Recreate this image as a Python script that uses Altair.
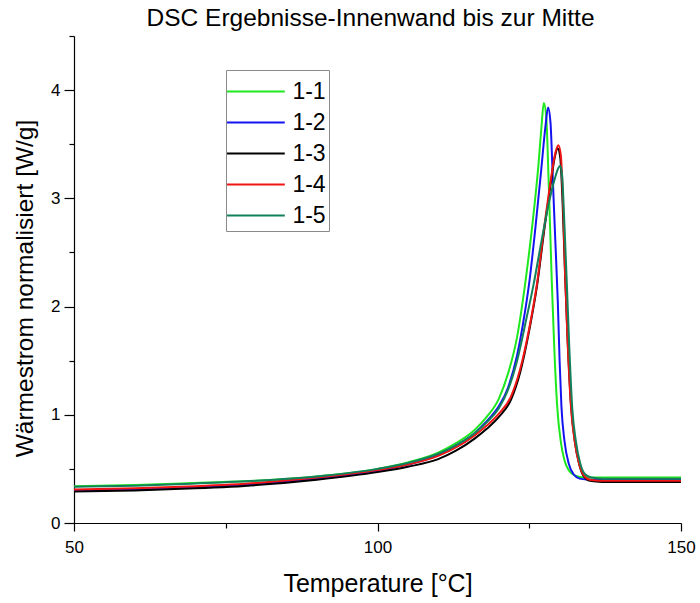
import altair as alt
import pandas as pd

# DSC heat-flow curves, normalised, for five samples (inner wall to middle)
series = ["1-1", "1-2", "1-3", "1-4", "1-5"]
colors = ["#1ee81e", "#1414f0", "#000000", "#f01414", "#13805c"]

t_11 = [50, 60, 70, 80, 90, 100, 105, 110, 113, 116, 118, 120, 121.5, 123, 124.3, 125.5, 126.5,
        127.0, 127.4, 127.8, 128.2, 128.7, 129.1, 129.6, 130.2, 130.8, 131.6, 132.5, 134, 140, 150]
v_11 = [0.34, 0.35, 0.37, 0.39, 0.43, 0.50, 0.56, 0.65, 0.74, 0.86, 0.98, 1.15, 1.38, 1.72, 2.20, 2.75, 3.30,
        3.65, 3.88, 3.75, 3.15, 2.25, 1.65, 1.08, 0.75, 0.58, 0.48, 0.44, 0.42, 0.42, 0.42]

t_12 = [50, 60, 70, 80, 90, 100, 105, 110, 113, 116, 118, 120, 121.5, 123, 124, 125, 126, 127, 127.7,
        128.1, 128.5, 128.9, 129.3, 129.7, 130.0, 130.3, 130.8, 131.5, 132.3, 133.3, 135, 140, 150]
v_12 = [0.30, 0.31, 0.33, 0.36, 0.41, 0.48, 0.54, 0.63, 0.72, 0.83, 0.94, 1.08, 1.25, 1.55, 1.85, 2.22, 2.72, 3.28, 3.68,
        3.84, 3.70, 3.15, 2.60, 2.05, 1.50, 1.08, 0.76, 0.55, 0.45, 0.41, 0.40, 0.40, 0.40]

t_13 = [50, 60, 70, 80, 90, 100, 105, 110, 113, 116, 118, 120, 122, 123.5, 125, 126.3, 127.5, 128.5,
        129.2, 129.7, 130.1, 130.5, 130.9, 131.3, 131.9, 132.5, 133.2, 134, 135, 137, 150]
v_13 = [0.29, 0.30, 0.32, 0.35, 0.40, 0.47, 0.52, 0.59, 0.67, 0.78, 0.87, 0.98, 1.14, 1.39, 1.78, 2.20, 2.72, 3.12,
        3.38, 3.46, 3.38, 2.95, 2.30, 1.72, 1.08, 0.76, 0.55, 0.43, 0.39, 0.38, 0.38]

t_14 = [50, 60, 70, 80, 90, 100, 105, 110, 113, 116, 118, 120, 122, 123.5, 125, 126.3, 127.5, 128.5,
        129.3, 129.8, 130.2, 130.6, 130.9, 131.3, 131.9, 132.5, 133.2, 134, 135, 137, 150]
v_14 = [0.31, 0.32, 0.34, 0.37, 0.42, 0.49, 0.54, 0.62, 0.70, 0.81, 0.90, 1.01, 1.17, 1.42, 1.80, 2.22, 2.75, 3.15,
        3.42, 3.49, 3.40, 2.90, 2.30, 1.70, 1.05, 0.75, 0.55, 0.44, 0.40, 0.39, 0.39]

t_15 = [50, 60, 70, 80, 90, 100, 105, 110, 113, 116, 118, 120, 121.5, 123, 124.5, 125.7, 127, 128.2,
        129.2, 129.8, 130.1, 130.4, 130.8, 131.2, 131.6, 132.1, 132.7, 133.4, 134.2, 135.2, 137, 150]
v_15 = [0.335, 0.345, 0.365, 0.39, 0.43, 0.50, 0.555, 0.64, 0.72, 0.83, 0.93, 1.06, 1.23, 1.50, 1.88, 2.20, 2.60, 2.95,
        3.18, 3.28, 3.30, 3.22, 2.75, 2.20, 1.62, 1.05, 0.75, 0.55, 0.45, 0.42, 0.41, 0.41]

x_ticks = [50, 75, 100, 125, 150]
y_ticks = [0, 0.5, 1, 1.5, 2, 2.5, 3, 3.5, 4, 4.5]

curves = [(series[0], t_11, v_11), (series[1], t_12, v_12), (series[2], t_13, v_13),
          (series[3], t_14, v_14), (series[4], t_15, v_15)]
rows = []
for order, (name, ts, vs) in enumerate(curves):
    for t, v in zip(ts, vs):
        rows.append({"sample": name, "T": t, "W": v, "k": order})
df = pd.DataFrame(rows)

FONT = "Liberation Sans"

# long horizontal legend stroke on a compact row height
legend_stroke = "M-1.65,0H1.65"

chart = alt.Chart(df).mark_line(strokeWidth=2, interpolate="monotone").encode(
    x=alt.X(
        "T:Q",
        scale=alt.Scale(domain=[50, 150], nice=False, zero=False),
        axis=alt.Axis(
            values=x_ticks,
            labelExpr="datum.value % 50 === 0 ? toString(datum.value) : ''",
            tickSize={"condition": {"test": "datum.value % 50 === 0", "value": 8}, "value": 5},
            labelFlush=False,
            labelOverlap=False,
            title="Temperature [°C]",
            titleFontSize=25,
            titlePadding=16,
            labelFontSize=17,
            labelPadding=8,
        ),
    ),
    y=alt.Y(
        "W:Q",
        scale=alt.Scale(domain=[0, 4.5], nice=False),
        axis=alt.Axis(
            values=y_ticks,
            labelExpr="datum.value % 1 === 0 ? toString(datum.value) : ''",
            tickSize={"condition": {"test": "datum.value % 1 === 0", "value": 10}, "value": 5},
            labelFlush=False,
            labelOverlap=False,
            title="Wärmestrom normalisiert [W/g]",
            titleFontSize=24.5,
            titlePadding=13,
            titleY=252,
            labelFontSize=17,
            labelPadding=4,
        ),
    ),
    color=alt.Color(
        "sample:N",
        scale=alt.Scale(domain=series, range=colors),
        legend=alt.Legend(
            title=None,
            orient="none",
            legendX=152,
            legendY=34,
            symbolType=legend_stroke,
            symbolSize=1225,
            symbolStrokeWidth=2,
            symbolOffset=8.4,
            symbolFillColor="transparent",
            labelFontSize=23,
            labelFont=FONT,
            labelOffset=18,
            rowPadding=0,
            padding=3,
            strokeColor="#8a8a8a",
            fillColor="white",
        ),
    ),
    detail="k:O",
).properties(
    width=607,
    height=487,
    title=alt.Title(
        "DSC Ergebnisse-Innenwand bis zur Mitte",
        fontSize=24.5,
        font=FONT,
        fontWeight="normal",
        anchor="middle",
        offset=6,
        dx=-7,
        dy=10,
        color="black",
    ),
    autosize=alt.AutoSizeParams(type="none"),
    padding={"left": 74, "top": 36, "right": 19, "bottom": 80},
    background="white",
).configure_view(
    stroke=None
).configure_axis(
    grid=False,
    domainColor="black",
    tickColor="black",
    labelColor="black",
    titleColor="black",
    labelFont=FONT,
    titleFont=FONT,
    titleFontWeight="normal",
    domainWidth=1.2,
    tickWidth=1.2,
)

chart.save("out.html", embed_options={"renderer": "svg", "actions": False})
